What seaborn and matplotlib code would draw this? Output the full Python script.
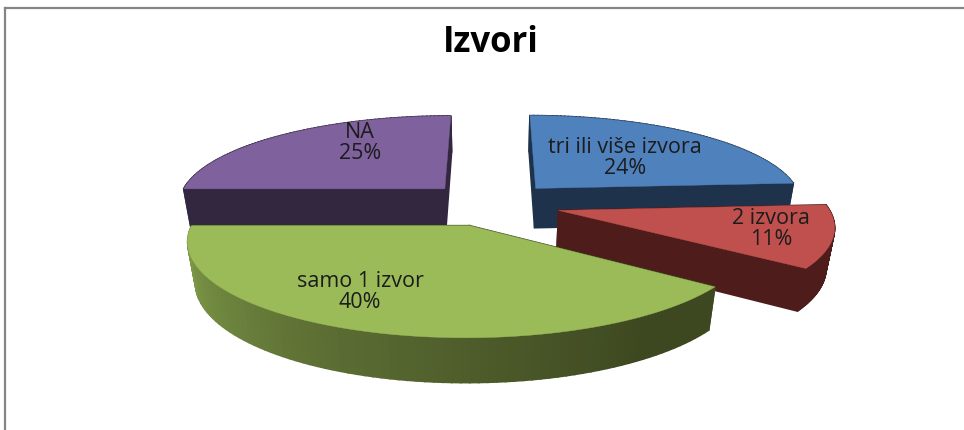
import numpy as np
import matplotlib
matplotlib.use("Agg")
import matplotlib.pyplot as plt
from matplotlib.colors import LinearSegmentedColormap
import seaborn as sns

# Data
title = "Izvori"
categories = ["tri ili više izvora", "2 izvora", "samo 1 izvor", "NA"]
values = [24, 11, 40, 25]

# Styles
top_colors = ["#4f81bd", "#c0504d", "#9bbb59", "#7f619e"]
wall_colors = ["#1e324b", "#4d1c1b", "#3d4820", "#32273f"]
explode = [0.25, 0.26, 0.25, 0.25]
label_pos = [(625, 158), (771, 229), (360, 292), (360, 143)]
green_wall = LinearSegmentedColormap.from_list("green_wall", ["#3d4820", "#5d6f34", "#84a34c"])

# Projection of the tilted pie
CX, CY = 491, 205
RX, RY, HEIGHT = 268, 88, 41
PERSP, BASE_PERSP = 0.15, 0.025

sns.set_theme(style="white")
plt.rcParams['font.family'] = ['Open Sans', 'DejaVu Sans']


def project(x, y, low):
    # low is 0 for the top face and 1 for the base
    s = 1 / (1 + PERSP * y + BASE_PERSP * low)
    return CX + RX * x * s, CY + (-RY * y + HEIGHT * low) * s


def shoelace(xs, ys):
    return 0.5 * np.sum(xs * np.roll(ys, -1) - np.roll(xs, -1) * ys)


def draw_slice(ax, start, end, top, wall, off, gradient=None):
    mid = np.radians((start + end) / 2)
    ox, oy = off * np.cos(mid), off * np.sin(mid)
    t = np.radians(np.linspace(start, end, 90))
    rim_x, rim_y = ox + np.cos(t), oy + np.sin(t)

    # outer wall strips and the two flat cut faces
    faces = []
    for i in range(len(t) - 1):
        faces.append(([rim_x[i], rim_x[i + 1]], [rim_y[i], rim_y[i + 1]], np.degrees(t[i]) % 360))
    faces.append(([ox, rim_x[0]], [oy, rim_y[0]], None))
    faces.append(([rim_x[-1], ox], [rim_y[-1], oy], None))

    drawn = []
    for fx, fy, ang in faces:
        tx, ty = project(np.array(fx), np.array(fy), 0)
        bx, by = project(np.array(fx), np.array(fy), 1)
        xs = np.r_[tx, bx[::-1]]
        ys = np.r_[ty, by[::-1]]
        color = wall
        if gradient is not None and ang is not None:
            # lit on the left, dark from about 4 o'clock on
            color = gradient(np.clip((305 - ang) / 125, 0, 1))
        drawn.append((shoelace(xs, ys), xs, ys, color))

    # hidden faces first so the visible ones stay on top
    drawn.sort(key=lambda f: f[0] < 0)
    for area, xs, ys, color in drawn:
        ax.fill(xs, ys, color=color, lw=1.2, zorder=1)

    px, py = project(np.r_[ox, rim_x], np.r_[oy, rim_y], 0)
    ax.fill(px, py, color=top, lw=0.3, zorder=1)


fig = plt.figure(figsize=(9.64, 4.31), dpi=100)
ax = fig.add_axes([5 / 964, 0, 959 / 964, 422 / 431])
ax.set_xlim(5, 964)
ax.set_ylim(431, 9)
ax.set_xticks([])
ax.set_yticks([])
sns.despine(ax=ax, top=False, left=False, right=True, bottom=True)
for side in ["left", "top"]:
    ax.spines[side].set_color("#858585")
    ax.spines[side].set_linewidth(1.6)

# Slices run clockwise from 12 o'clock, back ones first
shares = np.array(values) / sum(values) * 360
ends = 90 - np.cumsum(shares)
starts = ends + shares
for i in [3, 0, 1, 2]:
    draw_slice(ax, starts[i], ends[i], top_colors[i], wall_colors[i], explode[i],
               gradient=green_wall if i == 2 else None)

for cat, val, (lx, ly) in zip(categories, values, label_pos):
    ax.text(lx, ly, f"{cat}\n{val}%", ha="center", va="center", fontsize=15.5,
            color="#1c1c1c", linespacing=1.0, zorder=3)

ax.text(491, 43, title, ha="center", va="center", fontsize=25, fontweight="bold", color="black")

fig.savefig("out.png", dpi=100)
